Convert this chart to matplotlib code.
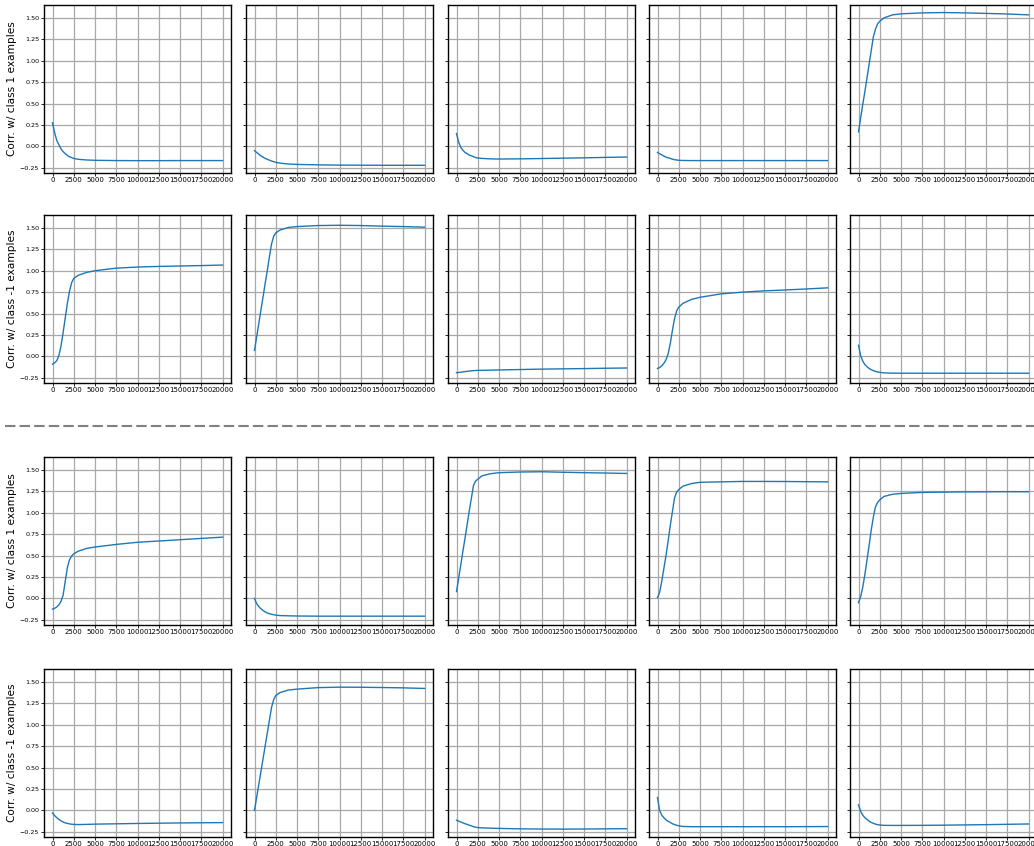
import matplotlib
matplotlib.use("Agg")
import matplotlib.pyplot as plt
from matplotlib.lines import Line2D

# training steps at which the correlations were logged
steps = [0, 250, 500, 750, 1000, 1250, 1500, 1750, 2000, 2250, 2500,
         3000, 4000, 5000, 7500, 10000, 12500, 15000, 17500, 20000]

# top block, class 1 row
r1c1 = [0.275, 0.16, 0.07, 0.02, -0.03, -0.06, -0.085, -0.105, -0.12, -0.13, -0.14,
        -0.15, -0.158, -0.162, -0.165, -0.166, -0.166, -0.165, -0.165, -0.165]
r1c2 = [-0.05, -0.07, -0.09, -0.11, -0.125, -0.14, -0.15, -0.16, -0.17, -0.178, -0.185,
        -0.195, -0.205, -0.21, -0.215, -0.218, -0.219, -0.22, -0.22, -0.22]
r1c3 = [0.15, 0.05, -0.01, -0.045, -0.07, -0.085, -0.1, -0.11, -0.12, -0.13, -0.135,
        -0.14, -0.145, -0.147, -0.145, -0.141, -0.137, -0.133, -0.128, -0.124]
r1c4 = [-0.07, -0.085, -0.1, -0.112, -0.125, -0.133, -0.14, -0.148, -0.155, -0.158, -0.162,
        -0.164, -0.165, -0.165, -0.165, -0.165, -0.165, -0.165, -0.165, -0.165]
r1c5 = [0.17, 0.33, 0.49, 0.64, 0.80, 0.96, 1.12, 1.28, 1.37, 1.43, 1.46,
        1.50, 1.535, 1.547, 1.558, 1.562, 1.558, 1.552, 1.545, 1.535]

# top block, class -1 row
r2c1 = [-0.09, -0.075, -0.05, 0.01, 0.12, 0.28, 0.45, 0.62, 0.76, 0.86, 0.91,
        0.945, 0.98, 1.0, 1.03, 1.043, 1.05, 1.055, 1.06, 1.066]
r2c2 = [0.07, 0.225, 0.38, 0.54, 0.69, 0.85, 1.0, 1.16, 1.31, 1.40, 1.44,
        1.475, 1.505, 1.515, 1.527, 1.53, 1.527, 1.52, 1.515, 1.508]
r2c3 = [-0.19, -0.187, -0.184, -0.18, -0.177, -0.174, -0.171, -0.168, -0.166, -0.164, -0.163,
        -0.162, -0.16, -0.158, -0.153, -0.148, -0.145, -0.142, -0.138, -0.135]
r2c4 = [-0.14, -0.13, -0.11, -0.08, -0.04, 0.03, 0.15, 0.30, 0.44, 0.53, 0.575,
        0.62, 0.665, 0.69, 0.73, 0.75, 0.765, 0.775, 0.787, 0.80]
r2c5 = [0.13, 0.01, -0.055, -0.095, -0.12, -0.14, -0.155, -0.166, -0.175, -0.181, -0.186,
        -0.192, -0.195, -0.196, -0.196, -0.196, -0.196, -0.196, -0.196, -0.196]

# bottom block, class 1 row
r3c1 = [-0.125, -0.115, -0.1, -0.075, -0.035, 0.04, 0.2, 0.36, 0.45, 0.495, 0.52,
        0.55, 0.583, 0.60, 0.63, 0.655, 0.67, 0.685, 0.70, 0.715]
r3c2 = [0.0, -0.06, -0.095, -0.12, -0.14, -0.157, -0.17, -0.178, -0.185, -0.19, -0.195,
        -0.2, -0.203, -0.205, -0.207, -0.207, -0.207, -0.207, -0.207, -0.207]
r3c3 = [0.08, 0.235, 0.39, 0.55, 0.70, 0.86, 1.02, 1.17, 1.32, 1.37, 1.39,
        1.43, 1.455, 1.467, 1.475, 1.478, 1.472, 1.467, 1.463, 1.458]
r3c4 = [0.01, 0.07, 0.2, 0.35, 0.5, 0.67, 0.85, 1.01, 1.17, 1.24, 1.27,
        1.31, 1.34, 1.355, 1.36, 1.365, 1.365, 1.364, 1.362, 1.36]
r3c5 = [-0.05, 0.02, 0.13, 0.28, 0.45, 0.62, 0.8, 0.95, 1.07, 1.12, 1.15,
        1.19, 1.215, 1.225, 1.237, 1.24, 1.243, 1.244, 1.245, 1.245]

# bottom block, class -1 row
r4c1 = [-0.03, -0.06, -0.085, -0.105, -0.122, -0.135, -0.145, -0.152, -0.157, -0.161, -0.163,
        -0.165, -0.163, -0.16, -0.156, -0.152, -0.149, -0.146, -0.144, -0.142]
r4c2 = [0.0, 0.15, 0.3, 0.45, 0.6, 0.75, 0.9, 1.05, 1.2, 1.29, 1.34,
        1.375, 1.405, 1.415, 1.433, 1.438, 1.437, 1.434, 1.43, 1.423]
r4c3 = [-0.115, -0.125, -0.135, -0.145, -0.155, -0.163, -0.172, -0.18, -0.19, -0.196, -0.2,
        -0.203, -0.207, -0.21, -0.215, -0.217, -0.218, -0.217, -0.215, -0.213]
r4c4 = [0.15, 0.0, -0.055, -0.085, -0.11, -0.127, -0.14, -0.155, -0.165, -0.173, -0.18,
        -0.187, -0.19, -0.19, -0.19, -0.19, -0.19, -0.19, -0.189, -0.188]
r4c5 = [0.065, -0.01, -0.055, -0.085, -0.105, -0.125, -0.14, -0.15, -0.16, -0.166, -0.17,
        -0.174, -0.175, -0.175, -0.174, -0.172, -0.169, -0.166, -0.162, -0.158]

rows = [[r1c1, r1c2, r1c3, r1c4, r1c5],
        [r2c1, r2c2, r2c3, r2c4, r2c5],
        [r3c1, r3c2, r3c3, r3c4, r3c5],
        [r4c1, r4c2, r4c3, r4c4, r4c5]]
row_labels = ["Corr. w/ class 1 examples", "Corr. w/ class -1 examples",
              "Corr. w/ class 1 examples", "Corr. w/ class -1 examples"]

W, H = 1034, 846
fig = plt.figure(figsize=(W / 100, H / 100), dpi=100)

col_left = [44, 246, 448, 649, 850]
row_top = [5, 215, 457, 669]
ax_w, ax_h = 187, 168

yticks = [-0.25, 0.0, 0.25, 0.5, 0.75, 1.0, 1.25, 1.5]
xticks = list(range(0, 20001, 2500))

for i, series_row in enumerate(rows):
    for j, vals in enumerate(series_row):
        ax = fig.add_axes([col_left[j] / W, 1 - (row_top[i] + ax_h) / H,
                           ax_w / W, ax_h / H])
        ax.plot(steps, vals, color="#1f77b4", lw=1.0)
        ax.set_xlim(-1000, 21000)
        ax.set_ylim(-0.31, 1.65)
        ax.set_xticks(xticks)
        ax.set_yticks(yticks)
        ax.grid(True, color="#a8a8a8", lw=0.9)
        ax.tick_params(axis="x", labelsize=5.0, length=2, width=0.6, pad=1.2)
        ax.tick_params(axis="y", labelsize=4.6, length=2, width=0.6, pad=1.5)
        for sp in ax.spines.values():
            sp.set_linewidth(1.0)
            sp.set_color("black")
        if j == 0:
            ax.set_ylabel(row_labels[i], fontsize=7.6, labelpad=2)
        else:
            ax.set_yticklabels([])

# separator between the two blocks
fig.add_artist(Line2D([0.005, 1.0], [1 - 426 / H, 1 - 426 / H],
                      transform=fig.transFigure, color="#808080",
                      lw=1.5, ls=(0, (5, 2))))

fig.savefig("out.png", dpi=100)
